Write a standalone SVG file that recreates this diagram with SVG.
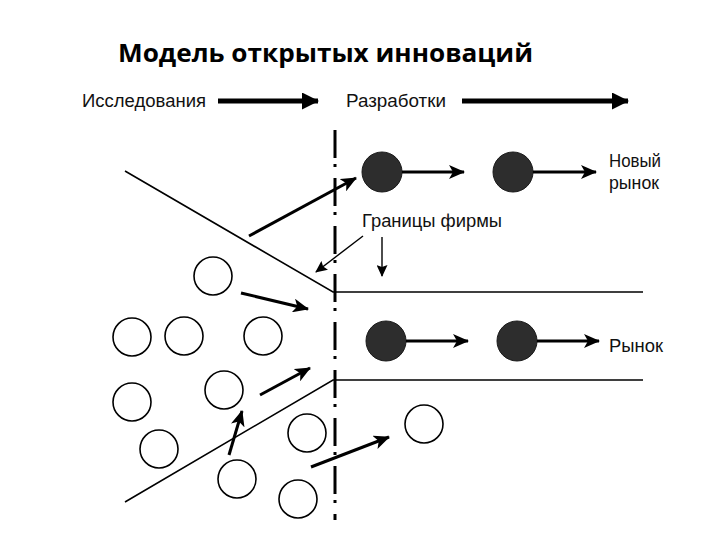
<svg xmlns="http://www.w3.org/2000/svg" width="720" height="540" viewBox="0 0 720 540">
<style>
.t{font-family:"Liberation Sans",Arial,sans-serif;fill:#111}
.title{font-family:"Open Sans","DejaVu Sans",sans-serif;font-weight:bold;font-size:25px;fill:#000}
.open{fill:#fff;stroke:#000;stroke-width:1.6}
.dark{fill:#2d2d2d;stroke:#1a1a1a;stroke-width:1}
.ln{stroke:#000;stroke-width:1.6;fill:none}
.ar{stroke:#000;stroke-width:3;fill:none;marker-end:url(#ah)}
.arT{stroke:#000;stroke-width:1.4;fill:none;marker-end:url(#ahs)}
.big{stroke:#000;stroke-width:5;fill:none;marker-end:url(#ahb)}
</style>
<defs>
<marker id="ah" viewBox="0 0 16 14" refX="15" refY="7" markerWidth="16" markerHeight="14" markerUnits="userSpaceOnUse" orient="auto"><path d="M0,0 L16,7 L0,14 L4,7 z" fill="#000"/></marker>
<marker id="ahs" viewBox="0 0 12 11" refX="11" refY="5.5" markerWidth="12" markerHeight="11" markerUnits="userSpaceOnUse" orient="auto"><path d="M0,0 L12,5.5 L0,11 L2,5.5 z" fill="#000"/></marker>
<marker id="ahb" viewBox="0 0 17 17" refX="16" refY="8.5" markerWidth="17" markerHeight="17" markerUnits="userSpaceOnUse" orient="auto"><path d="M0,0 L17,8.5 L0,17 z" fill="#000"/></marker>
</defs>
<rect width="720" height="540" fill="#fff"/>
<text class="title" x="118" y="62" textLength="415" lengthAdjust="spacingAndGlyphs">Модель открытых инноваций</text>

<g id="labels">
<text class="t" x="82" y="107" font-size="17.5" textLength="124" lengthAdjust="spacingAndGlyphs">Исследования</text>
<text class="t" x="346" y="107" font-size="17.5" textLength="100" lengthAdjust="spacingAndGlyphs">Разработки</text>
<text class="t" x="609" y="167" font-size="17.5" textLength="52" lengthAdjust="spacingAndGlyphs">Новый</text>
<text class="t" x="609" y="189" font-size="17.5" textLength="50" lengthAdjust="spacingAndGlyphs">рынок</text>
<text class="t" x="609" y="352" font-size="17.5" textLength="54" lengthAdjust="spacingAndGlyphs">Рынок</text>
<text class="t" x="362" y="227" font-size="17.5" textLength="140" lengthAdjust="spacingAndGlyphs">Границы фирмы</text>
</g>

<g id="boundaries">
<line x1="335" y1="130" x2="335" y2="520" stroke="#000" stroke-width="3" stroke-dasharray="28 6 3 11"/>
<polyline class="ln" points="125,171 333,292 643,292"/>
<polyline class="ln" points="125,502 333,380 643,380"/>
</g>

<g id="open-circles">
<circle class="open" cx="213" cy="276" r="19"/>
<circle class="open" cx="132" cy="337" r="19"/>
<circle class="open" cx="184" cy="336" r="19"/>
<circle class="open" cx="263" cy="336" r="19"/>
<circle class="open" cx="132" cy="402" r="19"/>
<circle class="open" cx="224" cy="390" r="19"/>
<circle class="open" cx="159" cy="449" r="19"/>
<circle class="open" cx="307" cy="433" r="19"/>
<circle class="open" cx="237" cy="479" r="19"/>
<circle class="open" cx="298" cy="499" r="19"/>
<circle class="open" cx="424" cy="424" r="19"/>
</g>

<g id="dark-circles">
<circle class="dark" cx="382" cy="172" r="20"/>
<circle class="dark" cx="513" cy="172" r="20"/>
<circle class="dark" cx="386" cy="341" r="20"/>
<circle class="dark" cx="517" cy="341" r="20"/>
</g>

<g id="connectors">
<line class="big" x1="218" y1="101" x2="318" y2="101"/>
<line class="big" x1="462" y1="101" x2="628" y2="101"/>
<line class="ar" x1="402" y1="172" x2="464" y2="172"/>
<line class="ar" x1="533" y1="172" x2="596" y2="172"/>
<line class="ar" x1="406" y1="341" x2="468" y2="341"/>
<line class="ar" x1="537" y1="341" x2="599" y2="341"/>
<line class="ar" x1="249" y1="236" x2="356" y2="178"/>
<line class="ar" x1="241" y1="293" x2="308" y2="309"/>
<line class="ar" x1="260" y1="395" x2="310" y2="368"/>
<line class="ar" x1="229" y1="455" x2="242" y2="411"/>
<line class="ar" x1="311" y1="467" x2="389" y2="437"/>
<line class="arT" x1="363" y1="236" x2="316" y2="272"/>
<line class="arT" x1="382" y1="237" x2="382" y2="276"/>
</g>
</svg>
